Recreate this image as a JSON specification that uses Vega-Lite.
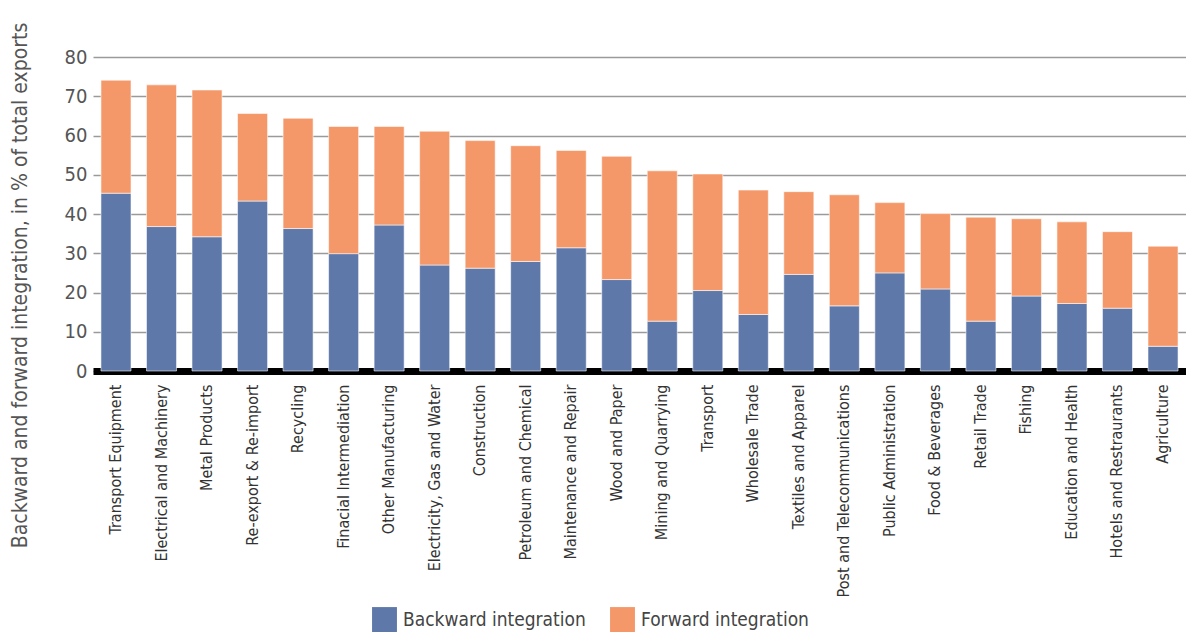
{
  "$schema": "https://vega.github.io/schema/vega-lite/v6.json",
  "autosize": "none",
  "width": 1093,
  "height": 314,
  "padding": {"left": 93, "top": 57, "right": 0, "bottom": 262},
  "background": "white",
  "config": {
    "font": "'Liberation Sans Narrow', 'Arial Narrow', 'DejaVu Sans Condensed', 'Noto Sans', sans-serif",
    "view": {"stroke": null}
  },
  "data": {
    "values": [
      {"sector": "Transport Equipment", "type": "Backward integration", "value": 45.3},
      {"sector": "Transport Equipment", "type": "Forward integration", "value": 28.8},
      {"sector": "Electrical and Machinery", "type": "Backward integration", "value": 36.8},
      {"sector": "Electrical and Machinery", "type": "Forward integration", "value": 36.1},
      {"sector": "Metal Products", "type": "Backward integration", "value": 34.2},
      {"sector": "Metal Products", "type": "Forward integration", "value": 37.4},
      {"sector": "Re-export & Re-import", "type": "Backward integration", "value": 43.3},
      {"sector": "Re-export & Re-import", "type": "Forward integration", "value": 22.3},
      {"sector": "Recycling", "type": "Backward integration", "value": 36.3},
      {"sector": "Recycling", "type": "Forward integration", "value": 28.1},
      {"sector": "Finacial Intermediation", "type": "Backward integration", "value": 29.9},
      {"sector": "Finacial Intermediation", "type": "Forward integration", "value": 32.4},
      {"sector": "Other Manufacturing", "type": "Backward integration", "value": 37.2},
      {"sector": "Other Manufacturing", "type": "Forward integration", "value": 25.1},
      {"sector": "Electricity, Gas and Water", "type": "Backward integration", "value": 27.0},
      {"sector": "Electricity, Gas and Water", "type": "Forward integration", "value": 34.1},
      {"sector": "Construction", "type": "Backward integration", "value": 26.2},
      {"sector": "Construction", "type": "Forward integration", "value": 32.5},
      {"sector": "Petroleum and Chemical", "type": "Backward integration", "value": 27.9},
      {"sector": "Petroleum and Chemical", "type": "Forward integration", "value": 29.5},
      {"sector": "Maintenance and Repair", "type": "Backward integration", "value": 31.4},
      {"sector": "Maintenance and Repair", "type": "Forward integration", "value": 24.8},
      {"sector": "Wood and Paper", "type": "Backward integration", "value": 23.3},
      {"sector": "Wood and Paper", "type": "Forward integration", "value": 31.4},
      {"sector": "Mining and Quarrying", "type": "Backward integration", "value": 12.7},
      {"sector": "Mining and Quarrying", "type": "Forward integration", "value": 38.3},
      {"sector": "Transport", "type": "Backward integration", "value": 20.5},
      {"sector": "Transport", "type": "Forward integration", "value": 29.7},
      {"sector": "Wholesale Trade", "type": "Backward integration", "value": 14.4},
      {"sector": "Wholesale Trade", "type": "Forward integration", "value": 31.7},
      {"sector": "Textiles and Apparel", "type": "Backward integration", "value": 24.6},
      {"sector": "Textiles and Apparel", "type": "Forward integration", "value": 21.1},
      {"sector": "Post and Telecommunications", "type": "Backward integration", "value": 16.6},
      {"sector": "Post and Telecommunications", "type": "Forward integration", "value": 28.3},
      {"sector": "Public Administration", "type": "Backward integration", "value": 25.0},
      {"sector": "Public Administration", "type": "Forward integration", "value": 17.9},
      {"sector": "Food & Beverages", "type": "Backward integration", "value": 20.9},
      {"sector": "Food & Beverages", "type": "Forward integration", "value": 19.2},
      {"sector": "Retail Trade", "type": "Backward integration", "value": 12.7},
      {"sector": "Retail Trade", "type": "Forward integration", "value": 26.5},
      {"sector": "Fishing", "type": "Backward integration", "value": 19.1},
      {"sector": "Fishing", "type": "Forward integration", "value": 19.7},
      {"sector": "Education and Health", "type": "Backward integration", "value": 17.2},
      {"sector": "Education and Health", "type": "Forward integration", "value": 20.8},
      {"sector": "Hotels and Restraurants", "type": "Backward integration", "value": 16.0},
      {"sector": "Hotels and Restraurants", "type": "Forward integration", "value": 19.5},
      {"sector": "Agriculture", "type": "Backward integration", "value": 6.3},
      {"sector": "Agriculture", "type": "Forward integration", "value": 25.5}
    ]
  },
  "mark": {"type": "bar", "stroke": "#ffffff", "strokeWidth": 0.8, "strokeOpacity": 0.7},
  "encoding": {
    "x": {
      "field": "sector",
      "type": "nominal",
      "sort": null,
      "scale": {"paddingInner": 0.34, "paddingOuter": 0.175},
      "axis": {
        "title": null,
        "labelAngle": -90,
        "labelAlign": "right",
        "labelBaseline": "middle",
        "labelFontSize": 16,
        "labelColor": "#333333",
        "labelPadding": 13,
        "ticks": false,
        "domainColor": "#000000",
        "domainWidth": 7,
        "labelLimit": 300
      }
    },
    "y": {
      "field": "value",
      "type": "quantitative",
      "stack": "zero",
      "scale": {"domain": [0, 80], "nice": false},
      "axis": {
        "title": "Backward and forward integration, in % of total exports",
        "titleFontSize": 21,
        "titleFontWeight": "normal",
        "titleColor": "#555555",
        "titleAngle": -90,
        "titleAlign": "center",
        "titleBaseline": "alphabetic",
        "titleX": -67,
        "titleY": 228,
        "values": [0, 10, 20, 30, 40, 50, 60, 70, 80],
        "labelFontSize": 20,
        "labelColor": "#555555",
        "labelPadding": 6,
        "ticks": false,
        "domain": false,
        "grid": true,
        "gridColor": "#9a9a9a",
        "gridWidth": 1.5
      }
    },
    "color": {
      "field": "type",
      "type": "nominal",
      "scale": {"domain": ["Backward integration", "Forward integration"], "range": ["#5E78AA", "#F59869"]},
      "legend": {
        "title": null,
        "orient": "none",
        "direction": "horizontal",
        "legendX": 279,
        "legendY": 550,
        "symbolType": "square",
        "symbolSize": 620,
        "symbolStrokeWidth": 0,
        "labelFontSize": 19,
        "labelLimit": 400,
        "labelColor": "#444444",
        "labelOffset": 6,
        "columnPadding": 24
      }
    },
    "order": {"field": "type", "sort": "ascending"}
  }
}
